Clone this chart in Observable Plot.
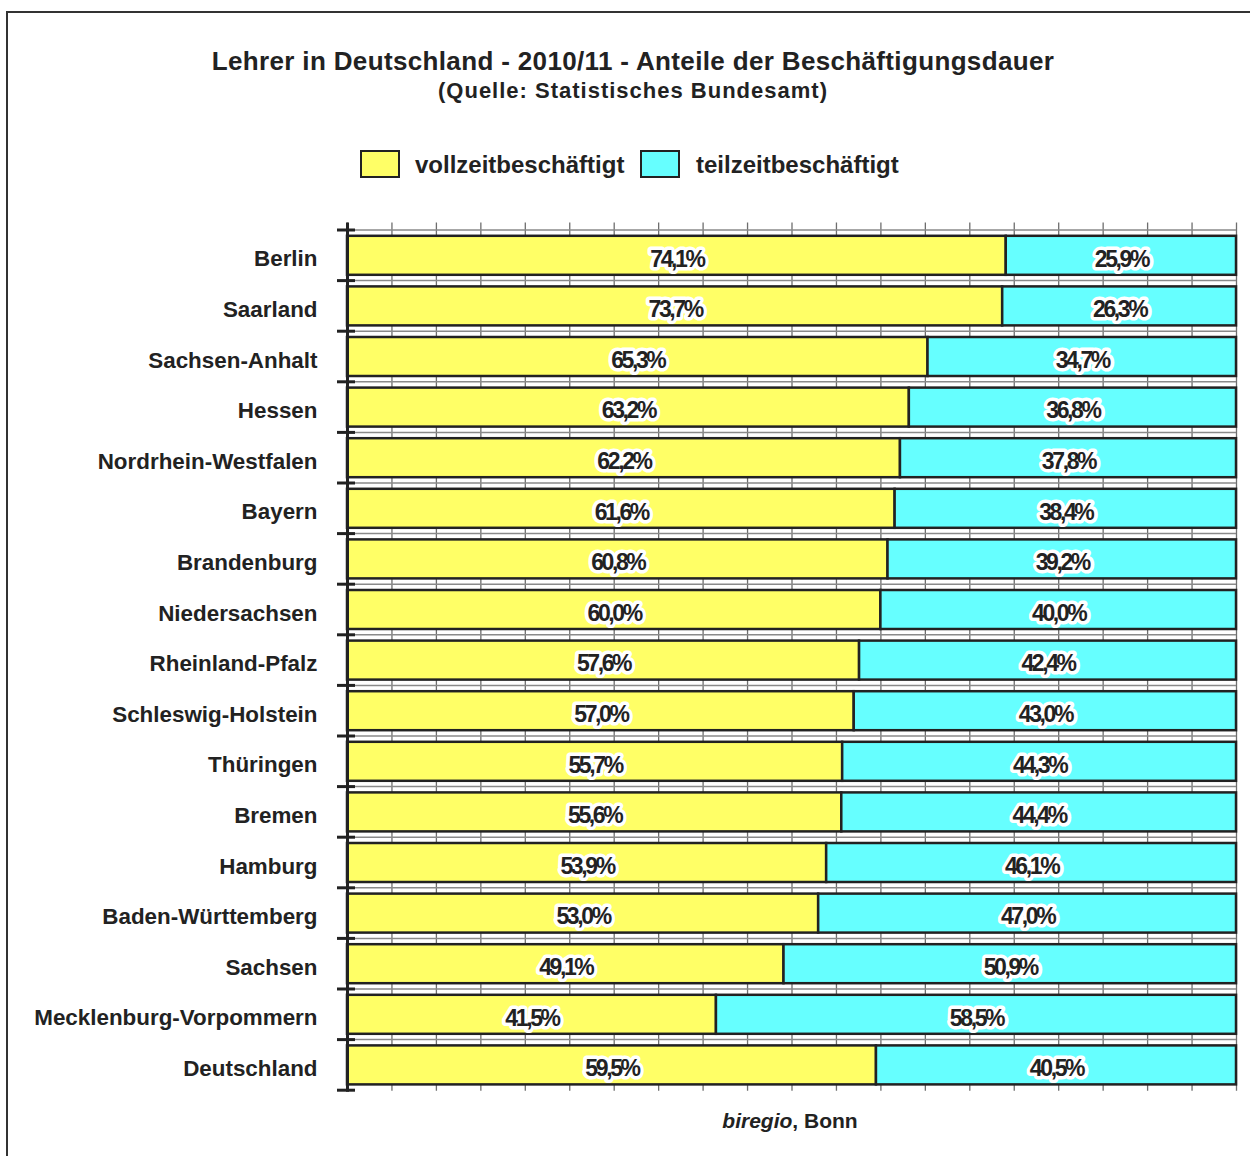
<!DOCTYPE html>
<html><head><meta charset="utf-8">
<script src="https://cdn.jsdelivr.net/npm/d3@7"></script>
<script src="https://cdn.jsdelivr.net/npm/@observablehq/plot@0.6"></script>
<style>
html,body{margin:0;padding:0;background:#fff;overflow:hidden;}
body{width:1250px;height:1156px;position:relative;font-family:"Liberation Sans",Arial,sans-serif;color:#222;}
#frame{position:absolute;left:6px;top:11px;width:1300px;height:1300px;border:2px solid #333;box-sizing:border-box;}
.t{position:absolute;white-space:nowrap;font-weight:bold;line-height:1;}
#title{left:633px;top:48px;transform:translateX(-50%);font-size:26px;letter-spacing:0.35px;}
#subtitle{left:633px;top:80px;transform:translateX(-50%);font-size:22px;letter-spacing:1px;}
#caption{left:790px;top:1110px;transform:translateX(-50%);font-size:21px;}
.sw{position:absolute;top:150px;width:40px;height:28px;border:2.5px solid #222;box-sizing:border-box;}
.lt{top:153px;font-size:24px;}
#chart{position:absolute;left:0;top:200px;}
#chart g[font-size="23"] text{letter-spacing:-2.4px;}
</style>
</head><body>
<div id="frame"></div>
<div id="title" class="t">Lehrer in Deutschland - 2010/11 - Anteile der Beschäftigungsdauer</div>
<div id="subtitle" class="t">(Quelle: Statistisches Bundesamt)</div>
<div id="legend"></div>
<div id="chart"></div>
<div id="caption" class="t"><i>biregio</i>, Bonn</div>
<script>
const states = ["Berlin","Saarland","Sachsen-Anhalt","Hessen","Nordrhein-Westfalen","Bayern","Brandenburg","Niedersachsen","Rheinland-Pfalz","Schleswig-Holstein","Thüringen","Bremen","Hamburg","Baden-Württemberg","Sachsen","Mecklenburg-Vorpommern","Deutschland"];
const vollzeit = [74.1,73.7,65.3,63.2,62.2,61.6,60.8,60.0,57.6,57.0,55.7,55.6,53.9,53.0,49.1,41.5,59.5];
const teilzeit = [25.9,26.3,34.7,36.8,37.8,38.4,39.2,40.0,42.4,43.0,44.3,44.4,46.1,47.0,50.9,58.5,40.5];
const seriesNames = ["vollzeitbeschäftigt","teilzeitbeschäftigt"];
const seriesColors = ["#FFFF66","#66FFFF"];
const xTicks = d3.range(0, 101, 5);

const rows = states.flatMap((s, i) => [
  {state: s, i, series: seriesNames[0], x1: 0, x2: vollzeit[i], value: vollzeit[i]},
  {state: s, i, series: seriesNames[1], x1: vollzeit[i], x2: vollzeit[i] + teilzeit[i], value: teilzeit[i]}
]);
const fmt = v => v.toFixed(1).replace(".", ",") + "%";

// legend
const legendPos = [{box: 360, text: 415}, {box: 640, text: 696}];
const lg = document.getElementById("legend");
seriesNames.forEach((n, k) => {
  const b = document.createElement("div");
  b.className = "sw"; b.style.left = legendPos[k].box + "px"; b.style.background = seriesColors[k];
  lg.appendChild(b);
  const t = document.createElement("div");
  t.className = "t lt"; t.style.left = legendPos[k].text + "px"; t.textContent = n;
  lg.appendChild(t);
});

const chart = Plot.plot({
  width: 1250, height: 912,
  marginLeft: 347, marginRight: 14, marginTop: 29.5, marginBottom: 22.3,
  x: {domain: [0, 100], axis: null},
  y: {domain: [0, states.length], reverse: true, axis: null},
  color: {domain: seriesNames, range: seriesColors},
  style: {fontFamily: '"Liberation Sans", Arial, sans-serif', background: "transparent", overflow: "visible"},
  marks: [
    Plot.ruleX(xTicks, {stroke: "#6e6e6e", strokeWidth: 1.3, insetTop: -7, insetBottom: -1}),
    Plot.ruleY(d3.range(states.length), {stroke: "#8a8a8a", strokeWidth: 1.5}),
    Plot.rectX(rows, {x1: "x1", x2: "x2", y1: "i", y2: d => d.i + 1, fill: "series", stroke: "#222", strokeWidth: 2.5, insetTop: 6.3, insetBottom: 5.3}),
    Plot.ruleX([0], {stroke: "#222", strokeWidth: 3, insetTop: -7, insetBottom: -2}),
    Plot.ruleY(d3.range(states.length + 1), {x1: 0, x2: 0, stroke: "#222", strokeWidth: 3, insetLeft: -10, insetRight: -8}),
    Plot.text(rows, {x: d => (d.x1 + d.x2) / 2, y: d => d.i + 0.5, text: d => fmt(d.value), fontSize: 23, fontWeight: "bold", fill: "#222", stroke: "white", strokeWidth: 7, strokeLinejoin: "round", paintOrder: "stroke", dy: 4}),
    Plot.text(states, {x: 0, y: (d, i) => i + 0.5, text: d => d, textAnchor: "end", dx: -30, dy: 4, fontSize: 22.4, fontWeight: "bold", fill: "#222"})
  ]
});
document.getElementById("chart").appendChild(chart);
</script>
</body></html>
